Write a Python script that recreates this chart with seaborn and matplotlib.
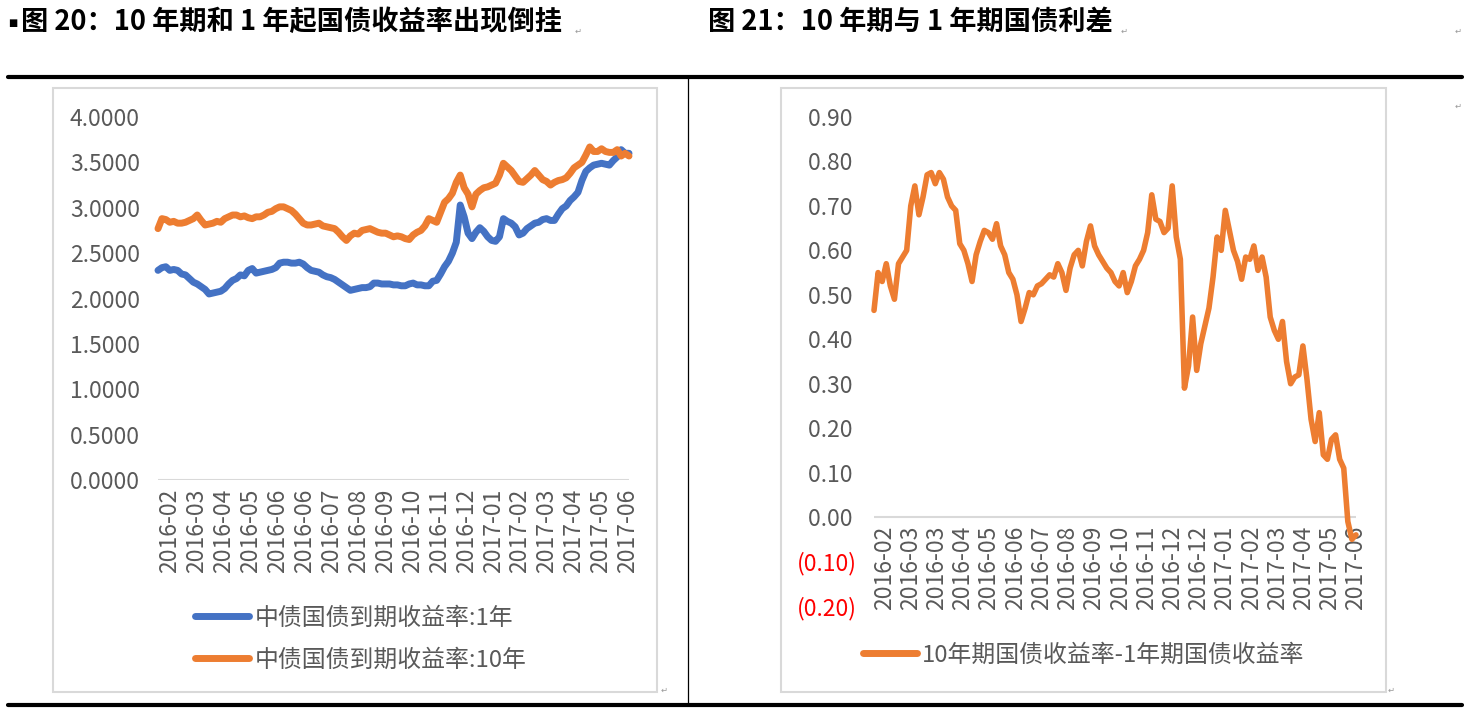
import numpy as np
import pandas as pd
import matplotlib
matplotlib.use("Agg")
import matplotlib.pyplot as plt
import seaborn as sns
from matplotlib.lines import Line2D
from matplotlib.patches import Rectangle

# ---------------- data ----------------
title_left = "图 20：10 年期和 1 年起国债收益率出现倒挂"
title_right = "图 21：10 年期与 1 年期国债利差"

series_1y_name = "中债国债到期收益率:1年"
series_10y_name = "中债国债到期收益率:10年"
spread_name = "10年期国债收益率-1年期国债收益率"

yield_1y = [
    2.31, 2.34, 2.35, 2.31, 2.32, 2.31, 2.27, 2.26, 2.22, 2.18,
    2.16, 2.13, 2.10, 2.05, 2.06, 2.07, 2.08, 2.11, 2.16, 2.20,
    2.22, 2.26, 2.25, 2.31, 2.33, 2.28, 2.29, 2.30, 2.31, 2.32,
    2.34, 2.39, 2.40, 2.40, 2.39, 2.39, 2.40, 2.38, 2.34, 2.31,
    2.30, 2.29, 2.26, 2.24, 2.23, 2.21, 2.18, 2.15, 2.12, 2.09,
    2.10, 2.11, 2.12, 2.12, 2.13, 2.17, 2.17, 2.16, 2.16, 2.16,
    2.15, 2.15, 2.14, 2.14, 2.16, 2.17, 2.15, 2.15, 2.14, 2.14,
    2.19, 2.20, 2.27, 2.35, 2.41, 2.50, 2.62, 3.03, 2.90, 2.72,
    2.66, 2.73, 2.78, 2.74, 2.68, 2.64, 2.63, 2.68, 2.88, 2.85,
    2.83, 2.79, 2.70, 2.72, 2.77, 2.80, 2.83, 2.84, 2.87, 2.88,
    2.86, 2.86, 2.93, 2.99, 3.02, 3.08, 3.12, 3.17, 3.30, 3.40,
    3.44, 3.47, 3.48, 3.49, 3.48, 3.47, 3.52, 3.56, 3.64, 3.60,
    3.60,
]

yield_10y = [
    2.77, 2.88, 2.87, 2.84, 2.85, 2.83, 2.83, 2.84, 2.86, 2.88,
    2.92, 2.86, 2.81, 2.82, 2.83, 2.85, 2.84, 2.88, 2.90, 2.92,
    2.92, 2.90, 2.91, 2.89, 2.88, 2.90, 2.90, 2.92, 2.95, 2.96,
    2.99, 3.01, 3.01, 2.99, 2.97, 2.93, 2.88, 2.83, 2.81, 2.81,
    2.82, 2.83, 2.80, 2.79, 2.78, 2.77, 2.73, 2.68, 2.64, 2.69,
    2.72, 2.71, 2.75, 2.76, 2.77, 2.75, 2.73, 2.72, 2.72, 2.70,
    2.68, 2.69, 2.68, 2.66, 2.65, 2.70, 2.73, 2.75, 2.80, 2.88,
    2.86, 2.84, 2.95, 3.06, 3.10, 3.16, 3.28, 3.36, 3.22, 3.15,
    3.01, 3.15, 3.19, 3.22, 3.23, 3.25, 3.27, 3.36, 3.49, 3.45,
    3.41, 3.35, 3.29, 3.28, 3.32, 3.36, 3.41, 3.36, 3.31, 3.29,
    3.25, 3.28, 3.30, 3.31, 3.33, 3.38, 3.44, 3.47, 3.50, 3.58,
    3.67, 3.62, 3.62, 3.65, 3.62, 3.61, 3.61, 3.64, 3.57, 3.60,
    3.57,
]

spread = [
    0.465, 0.55, 0.53, 0.57, 0.52, 0.49, 0.57, 0.585, 0.60, 0.70,
    0.745, 0.68, 0.72, 0.77, 0.775, 0.75, 0.775, 0.76, 0.72, 0.70,
    0.69, 0.615, 0.60, 0.57, 0.53, 0.59, 0.62, 0.645, 0.64, 0.625,
    0.66, 0.61, 0.59, 0.55, 0.535, 0.50, 0.44, 0.47, 0.505, 0.50,
    0.52, 0.525, 0.535, 0.545, 0.54, 0.57, 0.55, 0.51, 0.56, 0.59,
    0.60, 0.565, 0.62, 0.655, 0.61, 0.59, 0.575, 0.56, 0.55, 0.53,
    0.52, 0.55, 0.505, 0.53, 0.565, 0.58, 0.60, 0.64, 0.725, 0.67,
    0.665, 0.64, 0.65, 0.745, 0.63, 0.58, 0.29, 0.34, 0.45, 0.33,
    0.39, 0.43, 0.47, 0.54, 0.63, 0.60, 0.69, 0.645, 0.60, 0.575,
    0.535, 0.585, 0.58, 0.61, 0.555, 0.585, 0.54, 0.45, 0.42, 0.40,
    0.44, 0.35, 0.30, 0.315, 0.32, 0.385, 0.31, 0.22, 0.17, 0.235,
    0.14, 0.13, 0.175, 0.185, 0.13, 0.11, -0.01, -0.05, -0.04,
]

xlabels_left = ["2016-02", "2016-03", "2016-04", "2016-05", "2016-06", "2016-06",
                "2016-07", "2016-08", "2016-09", "2016-10", "2016-11", "2016-12",
                "2017-01", "2017-02", "2017-03", "2017-04", "2017-05", "2017-06"]
xlabels_right = ["2016-02", "2016-03", "2016-03", "2016-04", "2016-05", "2016-06",
                 "2016-07", "2016-08", "2016-09", "2016-10", "2016-11", "2016-12",
                 "2016-12", "2017-01", "2017-02", "2017-03", "2017-04", "2017-05",
                 "2017-06"]

yticks_left = [0.0, 0.5, 1.0, 1.5, 2.0, 2.5, 3.0, 3.5, 4.0]
yticks_right = [-0.2, -0.1, 0.0, 0.1, 0.2, 0.3, 0.4, 0.5, 0.6, 0.7, 0.8, 0.9]

# ---------------- style ----------------
BLUE = "#4472C4"
ORANGE = "#ED7D31"
GRAY_TXT = "#595959"
GRID = "#D9D9D9"
TICK_FS = 16.5
LEG_FS = 17.2

sns.set_theme(style="white")
plt.rcParams["font.family"] = ["Noto Sans CJK SC", "DejaVu Sans"]
plt.rcParams["axes.unicode_minus"] = False

W, H = 1466, 718
fig = plt.figure(figsize=(W / 100, H / 100), dpi=100)
fig.patch.set_facecolor("white")


def fx(x):
    return x / W


def fy(y):
    return 1 - y / H


def box(x0, y0, x1, y1):
    return [fx(x0), fy(y1), fx(x1) - fx(x0), fy(y0) - fy(y1)]


# ---------------- page decorations ----------------
fig.text(fx(8), fy(23), "■", fontsize=7, family="DejaVu Sans", va="center", ha="left", color="black")
fig.text(fx(21), fy(22), title_left, fontsize=19.6, fontweight="bold", va="center", ha="left", color="black")
fig.text(fx(708), fy(22), title_right, fontsize=19.6, fontweight="bold", va="center", ha="left", color="black")
for (px, py) in [(578, 31), (1124, 31), (1458, 31), (1458, 106), (664, 690), (1391, 690)]:
    fig.text(fx(px), fy(py), "↵", fontsize=6, color="#999999", family="DejaVu Sans", va="center", ha="center")

fig.add_artist(Line2D([fx(8), fx(1462)], [fy(77), fy(77)], color="black", lw=3.0, transform=fig.transFigure))
fig.add_artist(Line2D([fx(8), fx(1462)], [fy(705), fy(705)], color="black", lw=3.0, transform=fig.transFigure))
fig.add_artist(Line2D([fx(688), fx(688)], [fy(77), fy(705)], color="black", lw=0.9, transform=fig.transFigure))

for (x0, y0, x1, y1) in [(53, 88, 657, 692), (781, 88, 1386, 692)]:
    fig.add_artist(Rectangle((fx(x0), fy(y1)), fx(x1) - fx(x0), fy(y0) - fy(y1),
                             fill=False, edgecolor=GRID, lw=1.5, transform=fig.transFigure))

# ---------------- left chart ----------------
n_left = len(yield_1y)
df_left = pd.DataFrame({
    "idx": list(range(n_left)) * 2,
    "value": yield_1y + yield_10y,
    "series": [series_1y_name] * n_left + [series_10y_name] * n_left,
})

axL = fig.add_axes(box(158, 117, 629, 480))
axL.set_facecolor("none")
sns.lineplot(data=df_left, x="idx", y="value", hue="series",
             hue_order=[series_1y_name, series_10y_name],
             palette={series_1y_name: BLUE, series_10y_name: ORANGE},
             linewidth=5.0, ax=axL, legend=False, clip_on=False)
for ln in axL.lines:
    ln.set_solid_joinstyle("round")
    ln.set_solid_capstyle("round")
axL.set_xlim(0, n_left - 1)
axL.set_ylim(0, 4)
axL.axhline(0, color=GRID, lw=1.5, zorder=0)
for s in axL.spines.values():
    s.set_visible(False)
axL.set_yticks(yticks_left)
axL.set_yticklabels([f"{v:.4f}" for v in yticks_left])
axL.set_xticks(np.linspace(3, n_left - 1.3, len(xlabels_left)))
axL.set_xticklabels(xlabels_left, rotation=90)
axL.tick_params(axis="y", labelsize=TICK_FS, labelcolor=GRAY_TXT, length=0, pad=13)
axL.tick_params(axis="x", labelsize=TICK_FS, labelcolor=GRAY_TXT, length=0, pad=6)
axL.set_xlabel("")
axL.set_ylabel("")

hL = [Line2D([], [], color=BLUE, lw=5, solid_capstyle="round"),
      Line2D([], [], color=ORANGE, lw=5, solid_capstyle="round")]
axL.legend(hL, [series_1y_name, series_10y_name], loc="center left",
           bbox_to_anchor=(fx(195), fy(639)), bbox_transform=fig.transFigure,
           frameon=False, fontsize=LEG_FS, handlelength=2.25, handletextpad=0.25,
           labelspacing=0.8, borderpad=0, borderaxespad=0, labelcolor=GRAY_TXT)

# ---------------- right chart ----------------
n_right = len(spread)
df_right = pd.DataFrame({"idx": list(range(n_right)), "value": spread})

axR = fig.add_axes(box(874, 117, 1356, 606))
axR.set_facecolor("none")
sns.lineplot(data=df_right, x="idx", y="value", color=ORANGE, linewidth=4.0,
             ax=axR, clip_on=False)
for ln in axR.lines:
    ln.set_solid_joinstyle("round")
    ln.set_solid_capstyle("round")
axR.set_xlim(0, n_right - 1)
axR.set_ylim(-0.2, 0.9)
axR.axhline(0, color=GRID, lw=1.5, zorder=0)
for s in axR.spines.values():
    s.set_visible(False)
axR.spines["bottom"].set_position(("data", 0))
axR.set_yticks(yticks_right)
axR.set_yticklabels([f"({abs(v):.2f})" if v < 0 else f"{v:.2f} " for v in yticks_right])
for v, lab in zip(yticks_right, axR.get_yticklabels()):
    lab.set_color("#FF0000" if v < 0 else GRAY_TXT)
axR.tick_params(axis="y", labelsize=TICK_FS, length=0, pad=12)
axR.set_xticks(np.linspace(2.5, n_right - 1, len(xlabels_right)))
axR.set_xticklabels(xlabels_right, rotation=90)
axR.tick_params(axis="x", labelsize=TICK_FS, labelcolor=GRAY_TXT, length=0, pad=6)
axR.set_xlabel("")
axR.set_ylabel("")

hR = [Line2D([], [], color=ORANGE, lw=5, solid_capstyle="round")]
axR.legend(hR, [spread_name], loc="center left",
           bbox_to_anchor=(fx(863), fy(655)), bbox_transform=fig.transFigure,
           frameon=False, fontsize=LEG_FS, handlelength=2.25, handletextpad=0.2,
           borderpad=0, borderaxespad=0, labelcolor=GRAY_TXT)

fig.savefig("out.png", dpi=100, facecolor="white")
